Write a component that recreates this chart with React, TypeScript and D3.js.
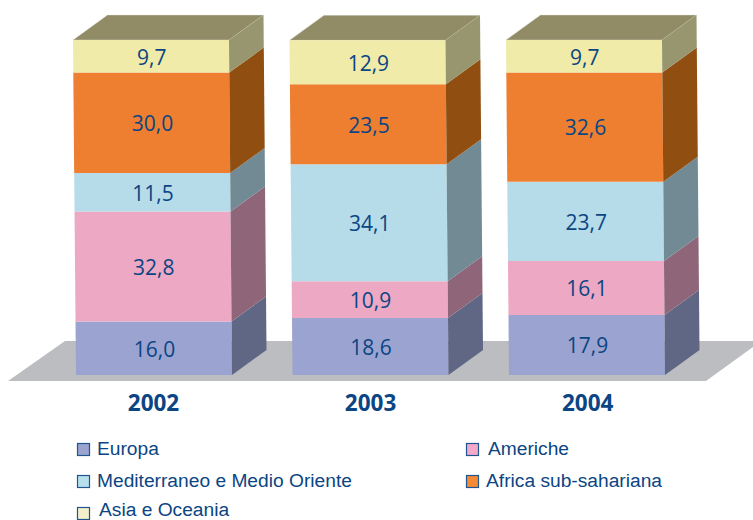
import React from "react";
import * as d3 from "d3";

const years = ["2002", "2003", "2004"];
const seriesNames = ["Europa", "Americhe", "Mediterraneo e Medio Oriente", "Africa sub-sahariana", "Asia e Oceania"];
// printed labels
const europaLabels = ["16,0", "18,6", "17,9"];
const americheLabels = ["32,8", "10,9", "16,1"];
const mediterraneoLabels = ["11,5", "34,1", "23,7"];
const africaLabels = ["30,0", "23,5", "32,6"];
const asiaLabels = ["9,7", "12,9", "9,7"];
// heights as drawn in the picture (percent of column height)
const europa = [16.0, 17.0, 17.9];
const americhe = [32.8, 11.0, 16.1];
const mediterraneo = [11.5, 34.9, 23.7];
const africa = [30.0, 23.9, 32.6];
const asia = [9.7, 13.1, 9.7];

const frontColors = ["#9BA3D0", "#EDA8C3", "#B6DBE9", "#EE7F30", "#F0EBA8"];
const sideColors = ["#5F6784", "#8F6679", "#718A94", "#904E10", "#98966E"];
const legendColors = ["#9BA3D0", "#F3A9C9", "#B6E0EC", "#F58A33", "#F3F1CC"];
const topColor = "#918C66";
const floorColor = "#BCBDC0";
const textColor = "#0B4583";

const legendItems = [
  { s: 0, sx: 77, sy: 443, tx: 97, ty: 455 },
  { s: 1, sx: 466, sy: 443, tx: 488, ty: 455 },
  { s: 2, sx: 77, sy: 475, tx: 97, ty: 487 },
  { s: 3, sx: 466, sy: 475, tx: 486, ty: 487 },
  { s: 4, sx: 77, sy: 507, tx: 99, ty: 515.8 },
];

const valueOf = [europa, americhe, mediterraneo, africa, asia];
const labelOf = [europaLabels, americheLabels, mediterraneoLabels, africaLabels, asiaLabels];

const y = d3.scaleLinear().domain([0, 100]).range([375, 40]);
const columnLeft = d3.scalePoint<string>().domain(years).range([76, 509]);
const lean = d3.scaleLinear().domain([375, 40]).range([0, -3]);
const W = 156;
const DX = 34.5;
const DY = -25;
const line = d3.line();

export default function App() {
  return (
    <svg width={753} height={520} style={{ position: "absolute", left: 0, top: 0 }}>
      <path d={line([[8, 381], [65, 341], [753, 341], [753, 347], [706, 381]]) + "Z"} fill={floorColor} />
      {years.map((yr, i) => {
        const x0 = columnLeft(yr)!;
        const fx = (py: number) => x0 + lean(py);
        let acc = 0;
        const segs = valueOf.map((vals, s) => {
          const a = acc;
          acc += vals[i];
          return { s, y0: y(a), y1: y(acc), label: labelOf[s][i] };
        });
        const top = y(acc);
        return (
          <g key={yr}>
            <path
              d={line([[fx(top), top], [fx(top) + W, top], [fx(top) + W + DX, top + DY], [fx(top) + DX, top + DY]]) + "Z"}
              fill={topColor}
              stroke="#E4E3D8"
              strokeWidth={0.4}
            />
            {segs.map((g) => (
              <g key={g.s}>
                <path
                  d={line([[fx(g.y0), g.y0], [fx(g.y0) + W, g.y0], [fx(g.y1) + W, g.y1], [fx(g.y1), g.y1]]) + "Z"}
                  fill={frontColors[g.s]}
                />
                <path
                  d={line([[fx(g.y0) + W, g.y0], [fx(g.y0) + W + DX, g.y0 + DY], [fx(g.y1) + W + DX, g.y1 + DY], [fx(g.y1) + W, g.y1]]) + "Z"}
                  fill={sideColors[g.s]}
                />
                <text
                  x={fx((g.y0 + g.y1) / 2) + W / 2 + 0.7}
                  y={(g.y0 + g.y1) / 2 + 8.3}
                  textAnchor="middle"
                  fontFamily="'Open Sans'"
                  fontSize={21}
                  fill={textColor}
                >
                  {g.label}
                </text>
              </g>
            ))}
            <text
              x={x0 + W / 2 + i * 0.6 - 0.5}
              y={411}
              textAnchor="middle"
              fontFamily="'Open Sans'"
              fontWeight={700}
              fontSize={22.5}
              fill={textColor}
            >
              {yr}
            </text>
          </g>
        );
      })}
      {legendItems.map((l) => (
        <g key={l.s}>
          <rect x={l.sx + 0.5} y={l.sy + 0.5} width={12} height={12} fill={legendColors[l.s]} stroke="#1F5590" strokeWidth={1.2} />
          <text x={l.tx} y={l.ty} fontFamily="'Liberation Sans'" fontSize={19.2} fill={textColor}>
            {seriesNames[l.s]}
          </text>
        </g>
      ))}
    </svg>
  );
}
